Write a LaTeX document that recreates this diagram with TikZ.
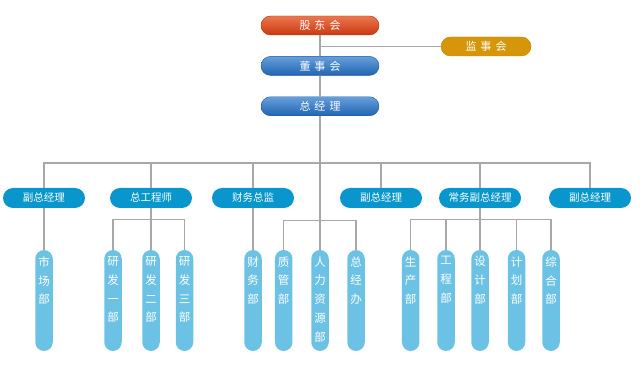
\documentclass[tikz,border=0pt]{standalone}
\usepackage{fontspec}
\newfontfamily\cjk{Noto Sans CJK SC}
\usetikzlibrary{positioning}
\definecolor{redtop}{RGB}{236,118,78}
\definecolor{redbot}{RGB}{200,58,18}
\definecolor{blutop}{RGB}{100,160,220}
\definecolor{blubot}{RGB}{34,100,178}
\definecolor{gold}{RGB}{214,150,10}
\definecolor{mgr}{RGB}{8,150,204}
\definecolor{deptc}{RGB}{108,194,228}
\definecolor{wire}{RGB}{168,168,168}
\tikzset{
  board/.style={rectangle,rounded corners=9.5pt,minimum width=118pt,minimum height=19pt,inner sep=0pt,text=white,font=\cjk\fontsize{11}{13}\selectfont},
  redboard/.style={board,draw=redbot!90!black,top color=redtop,bottom color=redbot},
  blueboard/.style={board,draw=blubot!85!black,top color=blutop,bottom color=blubot},
  goldboard/.style={board,minimum width=90pt,draw=gold!90!black,fill=gold},
  mgrbox/.style={rectangle,rounded corners=10pt,fill=mgr,minimum width=82pt,minimum height=20pt,inner sep=0pt,text=white,font=\cjk\fontsize{10.5}{13}\selectfont},
  deptbar/.style={rectangle,rounded corners=8.75pt,fill=deptc,minimum width=17.5pt,minimum height=101pt,inner sep=0pt,
    label={[anchor=north,yshift=-6.5pt,inner sep=0pt,align=center,text=white,font=\cjk\fontsize{11.5}{18.8}\selectfont]north:#1}},
  line/.style={draw=wire,line width=1.2pt}
}
\newcommand{\gap}{\hspace{4pt}}
\begin{document}
\begin{tikzpicture}[x=1pt,y=-1pt]
\useasboundingbox (0,0) rectangle (640,371);
% top of the chart
\node[redboard] (gd) at (320,25.5) {股\gap 东\gap 会};
\node[goldboard] (jsh) at (486,46.5) {监\gap 事\gap 会};
\node[blueboard, below=21pt of gd] (dsh) {董\gap 事\gap 会};
\node[blueboard, below=21pt of dsh] (zjl) {总\gap 经\gap 理};
% managers
\node[mgrbox] (fz1) at (44,198) {副总经理};
\node[mgrbox] (zgcs) at (151,198) {总工程师};
\node[mgrbox] (cwzj) at (253,198) {财务总监};
\node[mgrbox] (fz2) at (381,198) {副总经理};
\node[mgrbox] (cwf) at (480,198) {常务副总经理};
\node[mgrbox] (fz3) at (590,198) {副总经理};
% departments
\node[deptbar={市\\场\\部}] (scb) at (44,300.5) {};
\node[deptbar={研\\发\\一\\部}] (yf1) at (113,300.5) {};
\node[deptbar={研\\发\\二\\部}] (yf2) at (151,300.5) {};
\node[deptbar={研\\发\\三\\部}] (yf3) at (184.5,300.5) {};
\node[deptbar={财\\务\\部}] (cwb) at (253,300.5) {};
\node[deptbar={质\\管\\部}] (zgb) at (283.7,300.5) {};
\node[deptbar={人\\力\\资\\源\\部}] (hr) at (320,300.5) {};
\node[deptbar={总\\经\\办}] (zjb) at (356,300.5) {};
\node[deptbar={生\\产\\部}] (scbu) at (410.7,300.5) {};
\node[deptbar={工\\程\\部}] (gcb) at (446,300.5) {};
\node[deptbar={设\\计\\部}] (sjb) at (480,300.5) {};
\node[deptbar={计\\划\\部}] (jhb) at (516.5,300.5) {};
\node[deptbar={综\\合\\部}] (zhb) at (551,300.5) {};
% connectors
\coordinate (bus) at (320,163);
\coordinate (rdbus) at (0,219.5);
\coordinate (hqbus) at (0,220.7);
\draw[line] (gd) -- (dsh);
\draw[line] (jsh) -- (jsh -| gd);
\draw[line] (dsh) -- (zjl);
\draw[line] (zjl) -- (hr);
\draw[line] (fz1) -- (fz1 |- bus) -- (fz3 |- bus) -- (fz3);
\foreach \n in {zgcs,cwzj,fz2,cwf}
  \draw[line] (\n) -- (\n |- bus);
\draw[line] (fz1) -- (scb);
\draw[line] (zgcs) -- (yf2);
\draw[line] (yf1) -- (yf1 |- rdbus) -- (yf3 |- rdbus) -- (yf3);
\draw[line] (cwzj) -- (cwb);
\draw[line] (zgb) -- (zgb |- hqbus) -- (zjb |- hqbus) -- (zjb);
\draw[line] (cwf) -- (sjb);
\draw[line] (scbu) -- (scbu |- rdbus) -- (zhb |- rdbus) -- (zhb);
\foreach \n in {gcb,jhb}
  \draw[line] (\n) -- (\n |- rdbus);
\end{tikzpicture}
\end{document}
